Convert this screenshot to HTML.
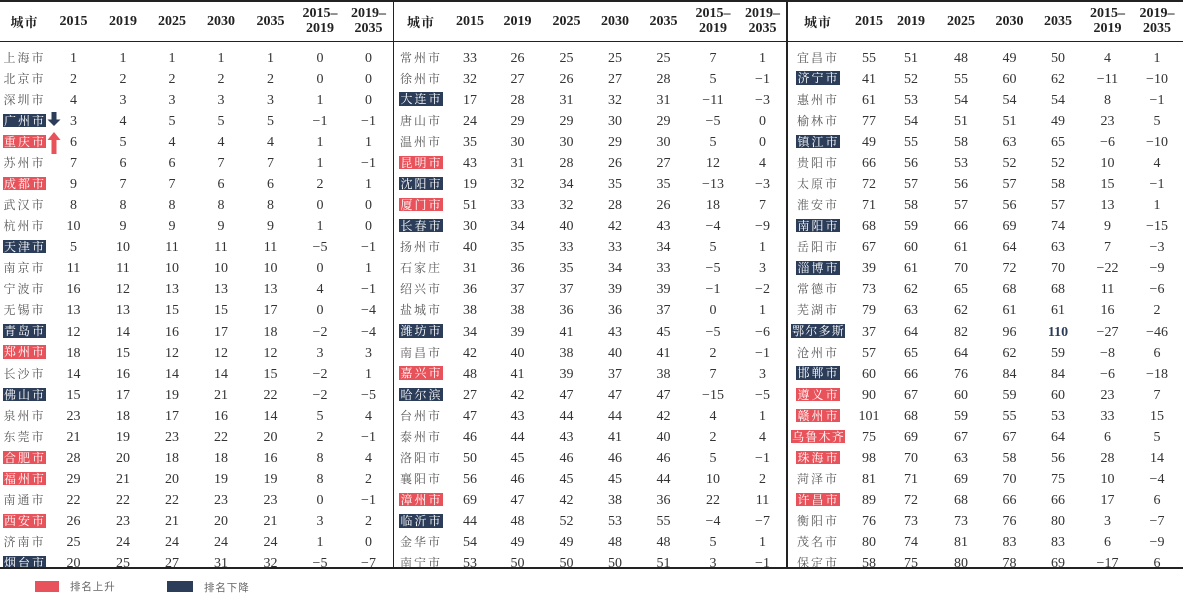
<!DOCTYPE html>
<html><head><meta charset="utf-8">
<style>
*{margin:0;padding:0;box-sizing:border-box}
html,body{width:1183px;height:602px;background:#fff;overflow:hidden}
body{position:relative;font-family:"Liberation Serif","Noto Serif CJK SC",serif}
.ln{position:absolute;background:#222}
.g{position:absolute;left:0;top:46.5px;width:1183px;height:521px;overflow:hidden}
.w{position:relative;height:21.08px}
.hd{position:absolute;left:0;top:1px;width:1183px;height:40px}
.w span,.hd span{position:absolute;top:0;width:60px;height:21.08px;display:flex;align-items:center;justify-content:center;font-size:14px;line-height:15px;color:#333;white-space:nowrap}
.w span{padding-top:2px}
.hd span{height:40px;font-weight:bold;color:#222;font-size:14px;line-height:15px;text-align:center;flex-direction:column}
.w span:nth-child(1){padding-top:0;font-family:"Noto Serif CJK SC","Noto Sans CJK SC",serif;font-size:12px;line-height:13px;letter-spacing:2px;color:#5a5a5a}
.hd span:nth-child(1){font-family:"Noto Serif CJK SC","Noto Sans CJK SC",serif;font-size:13px;letter-spacing:1px}
em{font-style:normal;display:inline-block;line-height:13.5px;height:13.5px;color:#fff;padding-left:1px;padding-right:0}
em.r{background:#e8525a}
em.n{background:#2c3d59}
em.q{letter-spacing:1.2px}
.g1 span:nth-child(1){left:-5.5px}.g1 span:nth-child(2){left:43.5px}.g1 span:nth-child(3){left:93px}.g1 span:nth-child(4){left:142px}.g1 span:nth-child(5){left:191px}.g1 span:nth-child(6){left:240.5px}.g1 span:nth-child(7){left:290px}.g1 span:nth-child(8){left:338.5px}
.g2 span:nth-child(1){left:391px}.g2 span:nth-child(2){left:440px}.g2 span:nth-child(3){left:487.5px}.g2 span:nth-child(4){left:536.5px}.g2 span:nth-child(5){left:585px}.g2 span:nth-child(6){left:633.5px}.g2 span:nth-child(7){left:683px}.g2 span:nth-child(8){left:732.5px}
.g3 span:nth-child(1){left:788px}.g3 span:nth-child(2){left:839px}.g3 span:nth-child(3){left:881px}.g3 span:nth-child(4){left:931px}.g3 span:nth-child(5){left:979.5px}.g3 span:nth-child(6){left:1028px}.g3 span:nth-child(7){left:1077.5px}.g3 span:nth-child(8){left:1127px}
.lg{position:absolute;font-family:"Noto Sans CJK SC",sans-serif;font-size:10.5px;letter-spacing:0.9px;color:#666;line-height:12px}
</style></head><body>

<div class="hd g1"><span>城市</span><span>2015</span><span>2019</span><span>2025</span><span>2030</span><span>2035</span><span>2015–<br>2019</span><span>2019–<br>2035</span></div>
<div class="hd g2"><span>城市</span><span>2015</span><span>2019</span><span>2025</span><span>2030</span><span>2035</span><span>2015–<br>2019</span><span>2019–<br>2035</span></div>
<div class="hd g3"><span>城市</span><span>2015</span><span>2019</span><span>2025</span><span>2030</span><span>2035</span><span>2015–<br>2019</span><span>2019–<br>2035</span></div>

<div class="g g1">
<div class="w"><span>上海市</span><span>1</span><span>1</span><span>1</span><span>1</span><span>1</span><span>0</span><span>0</span></div>
<div class="w"><span>北京市</span><span>2</span><span>2</span><span>2</span><span>2</span><span>2</span><span>0</span><span>0</span></div>
<div class="w"><span>深圳市</span><span>4</span><span>3</span><span>3</span><span>3</span><span>3</span><span>1</span><span>0</span></div>
<div class="w"><span><em class="n">广州市</em></span><span>3</span><span>4</span><span>5</span><span>5</span><span>5</span><span>−1</span><span>−1</span></div>
<div class="w"><span><em class="r">重庆市</em></span><span>6</span><span>5</span><span>4</span><span>4</span><span>4</span><span>1</span><span>1</span></div>
<div class="w"><span>苏州市</span><span>7</span><span>6</span><span>6</span><span>7</span><span>7</span><span>1</span><span>−1</span></div>
<div class="w"><span><em class="r">成都市</em></span><span>9</span><span>7</span><span>7</span><span>6</span><span>6</span><span>2</span><span>1</span></div>
<div class="w"><span>武汉市</span><span>8</span><span>8</span><span>8</span><span>8</span><span>8</span><span>0</span><span>0</span></div>
<div class="w"><span>杭州市</span><span>10</span><span>9</span><span>9</span><span>9</span><span>9</span><span>1</span><span>0</span></div>
<div class="w"><span><em class="n">天津市</em></span><span>5</span><span>10</span><span>11</span><span>11</span><span>11</span><span>−5</span><span>−1</span></div>
<div class="w"><span>南京市</span><span>11</span><span>11</span><span>10</span><span>10</span><span>10</span><span>0</span><span>1</span></div>
<div class="w"><span>宁波市</span><span>16</span><span>12</span><span>13</span><span>13</span><span>13</span><span>4</span><span>−1</span></div>
<div class="w"><span>无锡市</span><span>13</span><span>13</span><span>15</span><span>15</span><span>17</span><span>0</span><span>−4</span></div>
<div class="w"><span><em class="n">青岛市</em></span><span>12</span><span>14</span><span>16</span><span>17</span><span>18</span><span>−2</span><span>−4</span></div>
<div class="w"><span><em class="r">郑州市</em></span><span>18</span><span>15</span><span>12</span><span>12</span><span>12</span><span>3</span><span>3</span></div>
<div class="w"><span>长沙市</span><span>14</span><span>16</span><span>14</span><span>14</span><span>15</span><span>−2</span><span>1</span></div>
<div class="w"><span><em class="n">佛山市</em></span><span>15</span><span>17</span><span>19</span><span>21</span><span>22</span><span>−2</span><span>−5</span></div>
<div class="w"><span>泉州市</span><span>23</span><span>18</span><span>17</span><span>16</span><span>14</span><span>5</span><span>4</span></div>
<div class="w"><span>东莞市</span><span>21</span><span>19</span><span>23</span><span>22</span><span>20</span><span>2</span><span>−1</span></div>
<div class="w"><span><em class="r">合肥市</em></span><span>28</span><span>20</span><span>18</span><span>18</span><span>16</span><span>8</span><span>4</span></div>
<div class="w"><span><em class="r">福州市</em></span><span>29</span><span>21</span><span>20</span><span>19</span><span>19</span><span>8</span><span>2</span></div>
<div class="w"><span>南通市</span><span>22</span><span>22</span><span>22</span><span>23</span><span>23</span><span>0</span><span>−1</span></div>
<div class="w"><span><em class="r">西安市</em></span><span>26</span><span>23</span><span>21</span><span>20</span><span>21</span><span>3</span><span>2</span></div>
<div class="w"><span>济南市</span><span>25</span><span>24</span><span>24</span><span>24</span><span>24</span><span>1</span><span>0</span></div>
<div class="w"><span><em class="n">烟台市</em></span><span>20</span><span>25</span><span>27</span><span>31</span><span>32</span><span>−5</span><span>−7</span></div>
</div>

<div class="g g2">
<div class="w"><span>常州市</span><span>33</span><span>26</span><span>25</span><span>25</span><span>25</span><span>7</span><span>1</span></div>
<div class="w"><span>徐州市</span><span>32</span><span>27</span><span>26</span><span>27</span><span>28</span><span>5</span><span>−1</span></div>
<div class="w"><span><em class="n">大连市</em></span><span>17</span><span>28</span><span>31</span><span>32</span><span>31</span><span>−11</span><span>−3</span></div>
<div class="w"><span>唐山市</span><span>24</span><span>29</span><span>29</span><span>30</span><span>29</span><span>−5</span><span>0</span></div>
<div class="w"><span>温州市</span><span>35</span><span>30</span><span>30</span><span>29</span><span>30</span><span>5</span><span>0</span></div>
<div class="w"><span><em class="r">昆明市</em></span><span>43</span><span>31</span><span>28</span><span>26</span><span>27</span><span>12</span><span>4</span></div>
<div class="w"><span><em class="n">沈阳市</em></span><span>19</span><span>32</span><span>34</span><span>35</span><span>35</span><span>−13</span><span>−3</span></div>
<div class="w"><span><em class="r">厦门市</em></span><span>51</span><span>33</span><span>32</span><span>28</span><span>26</span><span>18</span><span>7</span></div>
<div class="w"><span><em class="n">长春市</em></span><span>30</span><span>34</span><span>40</span><span>42</span><span>43</span><span>−4</span><span>−9</span></div>
<div class="w"><span>扬州市</span><span>40</span><span>35</span><span>33</span><span>33</span><span>34</span><span>5</span><span>1</span></div>
<div class="w"><span>石家庄</span><span>31</span><span>36</span><span>35</span><span>34</span><span>33</span><span>−5</span><span>3</span></div>
<div class="w"><span>绍兴市</span><span>36</span><span>37</span><span>37</span><span>39</span><span>39</span><span>−1</span><span>−2</span></div>
<div class="w"><span>盐城市</span><span>38</span><span>38</span><span>36</span><span>36</span><span>37</span><span>0</span><span>1</span></div>
<div class="w"><span><em class="n">潍坊市</em></span><span>34</span><span>39</span><span>41</span><span>43</span><span>45</span><span>−5</span><span>−6</span></div>
<div class="w"><span>南昌市</span><span>42</span><span>40</span><span>38</span><span>40</span><span>41</span><span>2</span><span>−1</span></div>
<div class="w"><span><em class="r">嘉兴市</em></span><span>48</span><span>41</span><span>39</span><span>37</span><span>38</span><span>7</span><span>3</span></div>
<div class="w"><span><em class="n">哈尔滨</em></span><span>27</span><span>42</span><span>47</span><span>47</span><span>47</span><span>−15</span><span>−5</span></div>
<div class="w"><span>台州市</span><span>47</span><span>43</span><span>44</span><span>44</span><span>42</span><span>4</span><span>1</span></div>
<div class="w"><span>泰州市</span><span>46</span><span>44</span><span>43</span><span>41</span><span>40</span><span>2</span><span>4</span></div>
<div class="w"><span>洛阳市</span><span>50</span><span>45</span><span>46</span><span>46</span><span>46</span><span>5</span><span>−1</span></div>
<div class="w"><span>襄阳市</span><span>56</span><span>46</span><span>45</span><span>45</span><span>44</span><span>10</span><span>2</span></div>
<div class="w"><span><em class="r">漳州市</em></span><span>69</span><span>47</span><span>42</span><span>38</span><span>36</span><span>22</span><span>11</span></div>
<div class="w"><span><em class="n">临沂市</em></span><span>44</span><span>48</span><span>52</span><span>53</span><span>55</span><span>−4</span><span>−7</span></div>
<div class="w"><span>金华市</span><span>54</span><span>49</span><span>49</span><span>48</span><span>48</span><span>5</span><span>1</span></div>
<div class="w"><span>南宁市</span><span>53</span><span>50</span><span>50</span><span>50</span><span>51</span><span>3</span><span>−1</span></div>
</div>

<div class="g g3">
<div class="w"><span>宜昌市</span><span>55</span><span>51</span><span>48</span><span>49</span><span>50</span><span>4</span><span>1</span></div>
<div class="w"><span><em class="n">济宁市</em></span><span>41</span><span>52</span><span>55</span><span>60</span><span>62</span><span>−11</span><span>−10</span></div>
<div class="w"><span>惠州市</span><span>61</span><span>53</span><span>54</span><span>54</span><span>54</span><span>8</span><span>−1</span></div>
<div class="w"><span>榆林市</span><span>77</span><span>54</span><span>51</span><span>51</span><span>49</span><span>23</span><span>5</span></div>
<div class="w"><span><em class="n">镇江市</em></span><span>49</span><span>55</span><span>58</span><span>63</span><span>65</span><span>−6</span><span>−10</span></div>
<div class="w"><span>贵阳市</span><span>66</span><span>56</span><span>53</span><span>52</span><span>52</span><span>10</span><span>4</span></div>
<div class="w"><span>太原市</span><span>72</span><span>57</span><span>56</span><span>57</span><span>58</span><span>15</span><span>−1</span></div>
<div class="w"><span>淮安市</span><span>71</span><span>58</span><span>57</span><span>56</span><span>57</span><span>13</span><span>1</span></div>
<div class="w"><span><em class="n">南阳市</em></span><span>68</span><span>59</span><span>66</span><span>69</span><span>74</span><span>9</span><span>−15</span></div>
<div class="w"><span>岳阳市</span><span>67</span><span>60</span><span>61</span><span>64</span><span>63</span><span>7</span><span>−3</span></div>
<div class="w"><span><em class="n">淄博市</em></span><span>39</span><span>61</span><span>70</span><span>72</span><span>70</span><span>−22</span><span>−9</span></div>
<div class="w"><span>常德市</span><span>73</span><span>62</span><span>65</span><span>68</span><span>68</span><span>11</span><span>−6</span></div>
<div class="w"><span>芜湖市</span><span>79</span><span>63</span><span>62</span><span>61</span><span>61</span><span>16</span><span>2</span></div>
<div class="w"><span><em class="n q">鄂尔多斯</em></span><span>37</span><span>64</span><span>82</span><span>96</span><span style="color:#2c3d59;font-weight:bold">110</span><span>−27</span><span>−46</span></div>
<div class="w"><span>沧州市</span><span>57</span><span>65</span><span>64</span><span>62</span><span>59</span><span>−8</span><span>6</span></div>
<div class="w"><span><em class="n">邯郸市</em></span><span>60</span><span>66</span><span>76</span><span>84</span><span>84</span><span>−6</span><span>−18</span></div>
<div class="w"><span><em class="r">遵义市</em></span><span>90</span><span>67</span><span>60</span><span>59</span><span>60</span><span>23</span><span>7</span></div>
<div class="w"><span><em class="r">赣州市</em></span><span>101</span><span>68</span><span>59</span><span>55</span><span>53</span><span>33</span><span>15</span></div>
<div class="w"><span><em class="r q">乌鲁木齐</em></span><span>75</span><span>69</span><span>67</span><span>67</span><span>64</span><span>6</span><span>5</span></div>
<div class="w"><span><em class="r">珠海市</em></span><span>98</span><span>70</span><span>63</span><span>58</span><span>56</span><span>28</span><span>14</span></div>
<div class="w"><span>菏泽市</span><span>81</span><span>71</span><span>69</span><span>70</span><span>75</span><span>10</span><span>−4</span></div>
<div class="w"><span><em class="r">许昌市</em></span><span>89</span><span>72</span><span>68</span><span>66</span><span>66</span><span>17</span><span>6</span></div>
<div class="w"><span>衡阳市</span><span>76</span><span>73</span><span>73</span><span>76</span><span>80</span><span>3</span><span>−7</span></div>
<div class="w"><span>茂名市</span><span>80</span><span>74</span><span>81</span><span>83</span><span>83</span><span>6</span><span>−9</span></div>
<div class="w"><span>保定市</span><span>58</span><span>75</span><span>80</span><span>78</span><span>69</span><span>−17</span><span>6</span></div>
</div>

<svg style="position:absolute;left:0;top:0" width="1183" height="602">
<polygon points="51.5,112 56.5,112 56.5,119.5 60.5,119.5 54,126 47.5,119.5 51.5,119.5" fill="#2c3d59"/>
<polygon points="54,132 60.5,140 56.5,140 56.5,154 51.5,154 51.5,140 47.5,140" fill="#e8525a"/>
</svg>

<div class="ln" style="left:0;top:0;width:1183px;height:2px"></div>
<div class="ln" style="left:0;top:40.5px;width:1183px;height:1.5px"></div>
<div class="ln" style="left:0;top:567px;width:1183px;height:2px"></div>
<div class="ln" style="left:392.8px;top:0;width:1.6px;height:569px"></div>
<div class="ln" style="left:786.3px;top:0;width:1.6px;height:569px"></div>

<div style="position:absolute;left:35px;top:581px;width:24px;height:11px;background:#e8525a"></div>
<div class="lg" style="left:70px;top:581px">排名上升</div>
<div style="position:absolute;left:167px;top:581px;width:26px;height:11px;background:#2c3d59"></div>
<div class="lg" style="left:204px;top:582px">排名下降</div>
</body></html>
